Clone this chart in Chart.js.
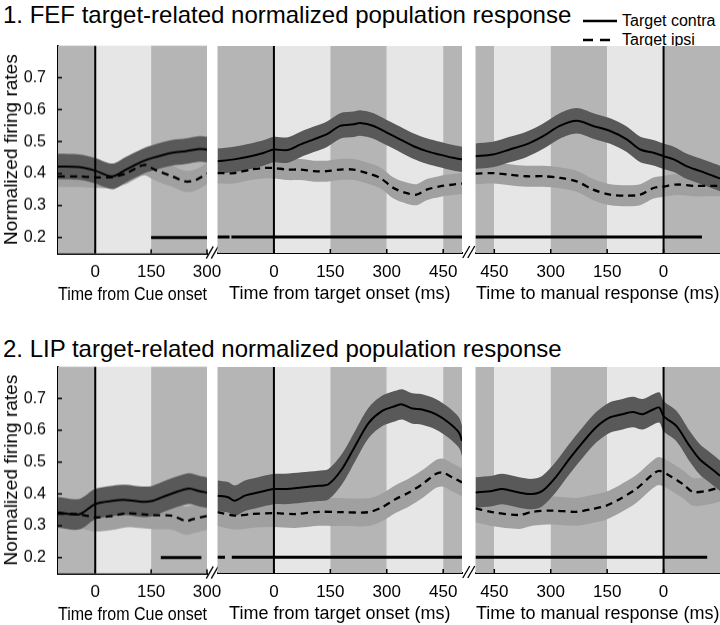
<!DOCTYPE html>
<html>
<head>
<meta charset="utf-8">
<script src="https://cdn.jsdelivr.net/npm/chart.js@4.4.1/dist/chart.umd.min.js"></script>
<style>
    body {
        margin: 0;
        width: 720px;
        height: 625px;
        overflow: hidden;
        background: #fff;
        position: relative;
        font-family: "Liberation Sans", Arial, sans-serif;
        color: #000;
    }
    canvas.panel {
        position: absolute;
        left: 0;
    }
    .fig-title {
        position: absolute;
        left: 3px;
        font-size: 24px;
        line-height: 26px;
        white-space: nowrap;
    }
    .legend {
        position: absolute;
        left: 581px;
        top: 11px;
        font-size: 16px;
        white-space: nowrap;
    }
    .legend div {
        height: 19px;
        display: flex;
        align-items: center;
    }
    .legend svg {
        margin-right: 5px;
    }
</style>
</head>
<body>
<div class="fig-title" style="top:2px">1. FEF target-related normalized population response</div>
<div class="fig-title" style="top:336px">2. LIP target-related normalized population response</div>
<div class="legend">
    <div><svg width="36" height="6"><line x1="2" y1="3" x2="36" y2="3" stroke="#000" stroke-width="2.5"/></svg>Target contra</div>
    <div><svg width="36" height="6"><line x1="2" y1="3" x2="36" y2="3" stroke="#000" stroke-width="2.5" stroke-dasharray="10,7"/></svg>Target ipsi</div>
</div>

<canvas class="panel" id="fefCue" width="720" height="271" style="top:34px"></canvas>
<canvas class="panel" id="fefTgt" width="720" height="271" style="top:34px"></canvas>
<canvas class="panel" id="fefResp" width="720" height="271" style="top:34px"></canvas>
<canvas class="panel" id="lipCue" width="720" height="270" style="top:355px"></canvas>
<canvas class="panel" id="lipTgt" width="720" height="270" style="top:355px"></canvas>
<canvas class="panel" id="lipResp" width="720" height="270" style="top:355px"></canvas>

<script>
// 坐标轴
const Y_MIN = 0.15;
const Y_MAX = 0.8;
const yTicks = [0.2, 0.3, 0.4, 0.5, 0.6, 0.7];
const SIG_LEVEL = 0.2;

const cueRange = [-100, 300];
const tgtRange = [-150, 500];
const respRange = [-500, 150];
const cueTicks = [0, 150, 300];
const tgtTicks = [0, 150, 300, 450];
const respTicks = [-450, -300, -150, 0];

// 背景分段 [起, 止, 深/浅]
const cueBands = [[-100, 0, 1], [0, 150, 0], [150, 300, 1]];
const tgtBands = [[-150, 0, 1], [0, 150, 0], [150, 300, 1], [300, 450, 0], [450, 500, 1]];
const respBands = [[-500, -450, 1], [-450, -300, 0], [-300, -150, 1], [-150, 0, 0], [0, 150, 1]];

// FEF
const fefCueContraT = [-100, -43, 0, 46, 82, 127, 154, 207, 243, 279, 300];
const fefCueContra = [0.422, 0.42, 0.409, 0.391, 0.412, 0.438, 0.449, 0.465, 0.47, 0.477, 0.475];
const fefCueIpsiT = [-100, -43, 0, 46, 82, 118, 135, 160, 207, 243, 270, 300];
const fefCueIpsi = [0.391, 0.391, 0.388, 0.389, 0.40, 0.422, 0.427, 0.412, 0.391, 0.375, 0.38, 0.40];

const fefTgtContraT = [-150, -106, -62, -26, 0, 35, 71, 106, 141, 176, 212, 229, 265, 300, 335, 370, 406, 441, 476, 500];
const fefTgtContra = [0.438, 0.444, 0.454, 0.465, 0.475, 0.473, 0.491, 0.507, 0.523, 0.549, 0.554, 0.558, 0.549, 0.528, 0.507, 0.486, 0.47, 0.459, 0.449, 0.444];
const fefTgtIpsiT = [-150, -106, -62, -26, 0, 35, 71, 106, 141, 176, 212, 247, 282, 318, 353, 379, 406, 441, 476, 500];
const fefTgtIpsi = [0.401, 0.401, 0.412, 0.417, 0.417, 0.412, 0.412, 0.407, 0.407, 0.412, 0.412, 0.401, 0.386, 0.354, 0.338, 0.333, 0.349, 0.359, 0.365, 0.368];

const fefRespContraT = [-500, -454, -409, -365, -320, -276, -231, -187, -142, -98, -62, -27, 0, 27, 62, 98, 134, 150];
const fefRespContra = [0.454, 0.459, 0.475, 0.491, 0.517, 0.549, 0.565, 0.549, 0.533, 0.507, 0.475, 0.465, 0.454, 0.444, 0.422, 0.407, 0.391, 0.384];
const fefRespIpsiT = [-500, -454, -409, -365, -320, -276, -231, -187, -142, -98, -62, -27, 0, 36, 80, 134, 150];
const fefRespIpsi = [0.399, 0.401, 0.396, 0.391, 0.391, 0.386, 0.375, 0.349, 0.333, 0.33, 0.333, 0.354, 0.359, 0.365, 0.361, 0.361, 0.361];

const FEF_SEM_CONTRA = 0.04;
const FEF_SEM_IPSI = 0.033;

// LIP
const lipCueContraT = [-100, -43, 0, 46, 82, 127, 154, 189, 225, 252, 279, 300];
const lipCueContra = [0.342, 0.336, 0.368, 0.378, 0.381, 0.375, 0.378, 0.394, 0.409, 0.417, 0.409, 0.404];
const lipCueIpsiT = [-100, -43, 0, 46, 82, 127, 154, 207, 243, 261, 300];
const lipCueIpsi = [0.338, 0.336, 0.326, 0.331, 0.339, 0.336, 0.333, 0.331, 0.315, 0.32, 0.331];

const lipTgtContraT = [-150, -122, -104, -77, -42, 0, 29, 74, 118, 145, 181, 216, 252, 287, 323, 341, 368, 394, 430, 465, 492, 500];
const lipTgtContra = [0.394, 0.389, 0.378, 0.394, 0.404, 0.415, 0.415, 0.42, 0.425, 0.43, 0.478, 0.551, 0.624, 0.661, 0.677, 0.682, 0.669, 0.666, 0.651, 0.624, 0.593, 0.567];
const lipTgtIpsiT = [-150, -104, -60, 0, 56, 118, 181, 252, 287, 323, 359, 394, 430, 448, 474, 500];
const lipTgtIpsi = [0.342, 0.331, 0.336, 0.339, 0.336, 0.343, 0.342, 0.342, 0.357, 0.383, 0.404, 0.43, 0.462, 0.467, 0.452, 0.436];

const lipRespContraT = [-500, -456, -429, -384, -349, -322, -287, -251, -215, -180, -144, -109, -82, -55, -28, -11, 0, 34, 69, 96, 123, 150];
const lipRespContra = [0.404, 0.409, 0.415, 0.404, 0.399, 0.409, 0.452, 0.509, 0.562, 0.609, 0.64, 0.651, 0.658, 0.651, 0.666, 0.672, 0.645, 0.614, 0.551, 0.509, 0.483, 0.457];
const lipRespIpsiT = [-500, -456, -384, -349, -295, -233, -189, -153, -117, -73, -28, -11, 16, 52, 78, 114, 150];
const lipRespIpsi = [0.354, 0.342, 0.333, 0.343, 0.347, 0.343, 0.352, 0.362, 0.383, 0.415, 0.462, 0.472, 0.457, 0.43, 0.406, 0.409, 0.42];

const LIP_SEM_CONTRA = 0.048;
const LIP_SEM_IPSI = 0.044;

// 显著性横线 (ms)
const fefCueSig = [[150, 300]];
const fefTgtSig = [[-150, -118], [-113, 500]];
const fefRespSig = [[-500, 102]];
const lipCueSig = [[176, 285]];
const lipTgtSig = [[-150, -130], [-112, 500]];
const lipRespSig = [[-500, 116]];

const COLOR_DARK_BG = '#b5b5b5';
const COLOR_LIGHT_BG = '#e6e6e6';
const COLOR_CONTRA_SEM = '#595959';
const COLOR_IPSI_SEM = '#a0a0a0';

Chart.defaults.color = '#000';
Chart.defaults.font.family = '"Liberation Sans", Arial, sans-serif';

function toPoints(ts, vs, offset) {
    return ts.map((t, i) => ({ x: t, y: vs[i] + offset }));
}

function sigPoints(segs) {
    const pts = [];
    segs.forEach((s, i) => {
        if (i > 0) pts.push({ x: (segs[i - 1][1] + s[0]) / 2, y: null });
        pts.push({ x: s[0], y: SIG_LEVEL }, { x: s[1], y: SIG_LEVEL });
    });
    return pts;
}

/**
 * 背景、刻度、断轴符号
 */
const panelDecor = {
    id: 'panelDecor',
    beforeDatasetsDraw(chart, args, opts) {
        const { ctx, chartArea: a, scales: { x } } = chart;
        ctx.save();
        opts.bands.forEach(b => {
            const x0 = x.getPixelForValue(b[0]);
            const x1 = x.getPixelForValue(b[1]);
            ctx.fillStyle = b[2] ? COLOR_DARK_BG : COLOR_LIGHT_BG;
            ctx.fillRect(x0, a.top, x1 - x0, a.bottom - a.top);
        });
        ctx.restore();
    },
    afterDraw(chart, args, opts) {
        const { ctx, chartArea: a, scales: { x, y } } = chart;
        ctx.save();
        ctx.strokeStyle = '#000';
        ctx.lineWidth = 1.5;
        // x 轴内向刻度
        opts.ticks.forEach(v => {
            const px = x.getPixelForValue(v);
            ctx.beginPath();
            ctx.moveTo(px, a.bottom);
            ctx.lineTo(px, a.bottom - 4);
            ctx.stroke();
        });
        // y 轴内向刻度
        if (opts.showY) {
            yTicks.forEach(v => {
                const py = y.getPixelForValue(v);
                ctx.beginPath();
                ctx.moveTo(a.left, py);
                ctx.lineTo(a.left + 4, py);
                ctx.stroke();
            });
        }
        // 断轴 //
        if (opts.breakGap) {
            const cx = a.right + opts.breakGap / 2;
            const cy = a.bottom - 1;
            ctx.lineWidth = 1.3;
            [-2.5, 2.5].forEach(o => {
                ctx.beginPath();
                ctx.moveTo(cx + o - 3.5, cy + 6);
                ctx.lineTo(cx + o + 3.5, cy - 6);
                ctx.stroke();
            });
        }
        ctx.restore();
    }
};

function makePanel(id, p) {
    const ctx = document.getElementById(id).getContext('2d');
    const line = (data, dash, order) => ({
        data: data,
        borderColor: '#000',
        borderWidth: dash ? 2.3 : 2,
        borderDash: dash ? [7, 5] : [],
        pointRadius: 0,
        tension: 0.3,
        fill: false,
        order: order
    });
    const band = (data, fill, color, order) => ({
        data: data,
        borderWidth: 0,
        borderColor: 'rgba(0,0,0,0)',
        backgroundColor: color,
        pointRadius: 0,
        tension: 0.3,
        fill: fill,
        order: order
    });

    return new Chart(ctx, {
        type: 'line',
        data: {
            datasets: [
                line(toPoints(p.contraT, p.contra, 0), false, 0),
                line(toPoints(p.ipsiT, p.ipsi, 0), true, 1),
                {
                    data: [{ x: 0, y: Y_MIN }, { x: 0, y: Y_MAX }],
                    borderColor: '#000', borderWidth: 2, pointRadius: 0, order: 2
                },
                {
                    data: sigPoints(p.sig),
                    borderColor: '#000', borderWidth: 3, pointRadius: 0, spanGaps: false, order: 2
                },
                band(toPoints(p.contraT, p.contra, p.semC), '+1', COLOR_CONTRA_SEM, 3),
                band(toPoints(p.contraT, p.contra, -p.semC), false, COLOR_CONTRA_SEM, 3),
                band(toPoints(p.ipsiT, p.ipsi, p.semI), '+1', COLOR_IPSI_SEM, 4),
                band(toPoints(p.ipsiT, p.ipsi, -p.semI), false, COLOR_IPSI_SEM, 4)
            ]
        },
        options: {
            responsive: false,
            maintainAspectRatio: false,
            animation: false,
            events: [],
            layout: { padding: { left: p.padL, right: p.padR, top: 12, bottom: 0 } },
            plugins: {
                legend: { display: false },
                tooltip: { enabled: false },
                panelDecor: { bands: p.bands, ticks: p.ticks, showY: p.showY, breakGap: p.breakGap }
            },
            scales: {
                x: {
                    type: 'linear',
                    min: p.range[0],
                    max: p.range[1],
                    afterBuildTicks: s => { s.ticks = p.ticks.map(v => ({ value: v })); },
                    afterFit: s => { s.height = 52; },
                    ticks: {
                        font: { size: 17 },
                        padding: 9,
                        maxRotation: 0,
                        autoSkip: false,
                        callback: v => Math.abs(v)
                    },
                    grid: { display: true, drawOnChartArea: false, drawTicks: false, tickLength: 0 },
                    border: { display: true, color: '#000', width: 2 },
                    title: {
                        display: true,
                        text: p.xTitle,
                        font: { size: 18 },
                        padding: { top: 0, bottom: 0 }
                    }
                },
                y: {
                    display: p.showY,
                    min: Y_MIN,
                    max: Y_MAX,
                    afterBuildTicks: s => { s.ticks = yTicks.map(v => ({ value: v })); },
                    afterFit: s => { s.width = p.showY ? 58 : 0; },
                    ticks: {
                        font: { size: 16 },
                        padding: 12,
                        callback: v => v.toFixed(1)
                    },
                    grid: { display: true, drawOnChartArea: false, drawTicks: false, tickLength: 0 },
                    border: { display: true, color: '#000', width: 2 },
                    title: {
                        display: true,
                        text: 'Normalized firing rates',
                        font: { size: 19 },
                        padding: { top: 0, bottom: 0 }
                    }
                }
            }
        },
        plugins: [panelDecor]
    });
}

/**
 * 让绘图区落在指定的页面位置
 */
function fitPanel(chart, top, bottom) {
    const a = chart.chartArea;
    const extra = (bottom - top) - (a.bottom - a.top);
    if (Math.abs(extra) > 0.1) {
        chart.resize(chart.width, chart.height + extra);
    }
    chart.canvas.style.top = (top - chart.chartArea.top) + 'px';
}

function initFigure() {
    const cueOpts = { range: cueRange, ticks: cueTicks, bands: cueBands, xTitle: 'Time from Cue onset', padL: 0, padR: 513, showY: true, breakGap: 10.5 };
    const tgtOpts = { range: tgtRange, ticks: tgtTicks, bands: tgtBands, xTitle: 'Time from target onset (ms)', padL: 217.5, padR: 258, showY: false, breakGap: 13.5 };
    const respOpts = { range: respRange, ticks: respTicks, bands: respBands, xTitle: 'Time to manual response (ms)', padL: 475.5, padR: 0, showY: false, breakGap: 0 };

    const top = [
        makePanel('fefCue', Object.assign({}, cueOpts, { contraT: fefCueContraT, contra: fefCueContra, ipsiT: fefCueIpsiT, ipsi: fefCueIpsi, semC: FEF_SEM_CONTRA, semI: FEF_SEM_IPSI, sig: fefCueSig })),
        makePanel('fefTgt', Object.assign({}, tgtOpts, { contraT: fefTgtContraT, contra: fefTgtContra, ipsiT: fefTgtIpsiT, ipsi: fefTgtIpsi, semC: FEF_SEM_CONTRA, semI: FEF_SEM_IPSI, sig: fefTgtSig })),
        makePanel('fefResp', Object.assign({}, respOpts, { contraT: fefRespContraT, contra: fefRespContra, ipsiT: fefRespIpsiT, ipsi: fefRespIpsi, semC: FEF_SEM_CONTRA, semI: FEF_SEM_IPSI, sig: fefRespSig }))
    ];
    const bottom = [
        makePanel('lipCue', Object.assign({}, cueOpts, { contraT: lipCueContraT, contra: lipCueContra, ipsiT: lipCueIpsiT, ipsi: lipCueIpsi, semC: LIP_SEM_CONTRA, semI: LIP_SEM_IPSI, sig: lipCueSig })),
        makePanel('lipTgt', Object.assign({}, tgtOpts, { contraT: lipTgtContraT, contra: lipTgtContra, ipsiT: lipTgtIpsiT, ipsi: lipTgtIpsi, semC: LIP_SEM_CONTRA, semI: LIP_SEM_IPSI, sig: lipTgtSig })),
        makePanel('lipResp', Object.assign({}, respOpts, { contraT: lipRespContraT, contra: lipRespContra, ipsiT: lipRespIpsiT, ipsi: lipRespIpsi, semC: LIP_SEM_CONTRA, semI: LIP_SEM_IPSI, sig: lipRespSig }))
    ];

    top.forEach(c => fitPanel(c, 46, 253));
    bottom.forEach(c => fitPanel(c, 367, 573));
}

initFigure();
</script>
</body>
</html>
